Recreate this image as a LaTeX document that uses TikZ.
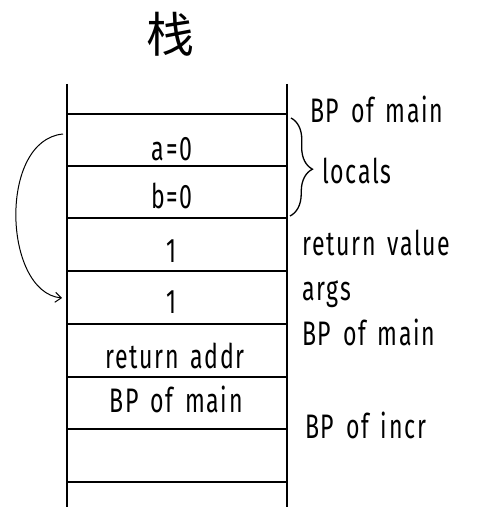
\documentclass[tikz,border=0pt]{standalone}
\usepackage{fontspec}
\setmainfont{Fira Sans}[FakeStretch=0.68,LetterSpace=5,WordSpace=1.5]
\newfontfamily\cjk{Noto Sans CJK SC}
\usetikzlibrary{decorations.pathreplacing,arrows.meta}
\begin{document}
\begin{tikzpicture}[x=1pt,y=-1pt,
  stackline/.style={line width=2.2pt},
  celltext/.style={anchor=base,inner sep=0pt,font=\fontsize{34}{34}\selectfont},
  sidetext/.style={anchor=base west,inner sep=0pt,font=\fontsize{34}{34}\selectfont}]
\useasboundingbox (0,0) rectangle (476,524);
% title
\node[font=\cjk\fontsize{48}{48}\selectfont] (title) at (170,34) {栈};
% stack walls
\coordinate (tl) at (67,84);  \coordinate (bl) at (67,507);
\coordinate (tr) at (287,84); \coordinate (br) at (287,507);
\draw[stackline] (tl) -- (bl);
\draw[stackline] (tr) -- (br);
% cell separators
\foreach \y in {114,166,218,271,324,377,429,482}
  \draw[stackline] (67,\y) -- (287,\y);
% cell contents
\node[celltext] (a)    at (172,160) {a=0};
\node[celltext] (b)    at (172,208) {b=0};
\node[celltext] (rv)   at (172,262) {1};
\node[celltext] (arg)  at (172,313) {1};
\node[celltext] (ra)   at (175,368) {return addr};
\node[celltext] (bp)   at (176,412) {BP of main};
% side labels
\node[sidetext] (bpm1)   at (310,122) {BP of main};
\node[sidetext] (locals) at (322,183) {locals};
\node[sidetext] (retv)   at (302,255) {return value};
\node[sidetext] (args)   at (302,300) {args};
\node[sidetext] (bpm2)   at (302,345) {BP of main};
\node[sidetext] (bpi)    at (305,438) {BP of incr};
% brace over the locals
\coordinate (brtop) at (291,118);
\coordinate (brbot) at (290,216);
\draw[line width=1.3pt,decorate,decoration={brace,amplitude=22pt,aspect=0.52}] (brtop) -- (brbot);
% copy of the locals into args
\coordinate (from) at (63,134);
\coordinate (to)   at (62,298);
\draw[line width=1pt,-{Straight Barb[length=6pt,width=10pt]}] (from) .. controls (-2,140) and (3,292) .. (to);
\end{tikzpicture}
\end{document}
